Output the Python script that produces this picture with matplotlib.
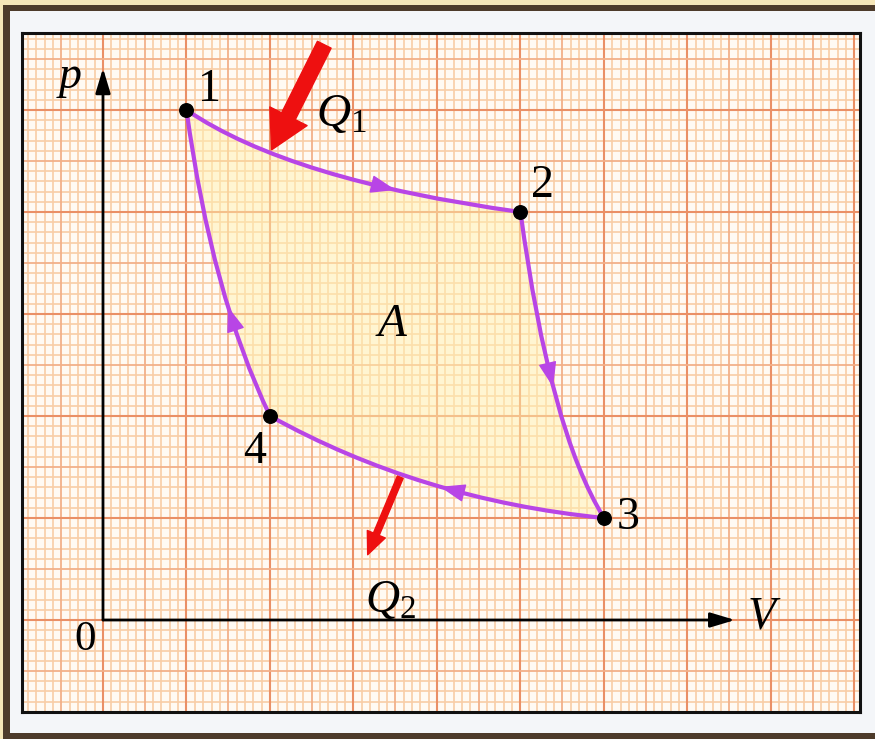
import matplotlib
matplotlib.use('Agg')
import numpy as np
import matplotlib.pyplot as plt
from matplotlib.path import Path
from matplotlib.patches import PathPatch, Rectangle
from matplotlib.bezier import BezierSegment

plt.rcParams['mathtext.fontset'] = 'custom'
plt.rcParams['mathtext.it'] = 'Liberation Serif:italic'
plt.rcParams['mathtext.rm'] = 'Liberation Serif'

# cycle vertices (V, p) and curve control points
state_v = [1.0, 5.0, 6.0, 2.0]
state_p = [5.0, 4.0, 1.0, 2.0]
state_lab = ['1', '2', '3', '4']
ctrl_v = [2.24, 5.35, 3.80, 1.30]
ctrl_p = [4.31, 1.86, 1.18, 3.19]
arrow_t = [0.66, 0.42, 0.42, 0.36]

# heat arrows: (start, tip)
q1_start, q1_tip = (2.65, 5.64), (2.02, 4.61)
q2_start, q2_tip = (3.56, 1.40), (3.17, 0.64)

W, H = 875, 739
fig = plt.figure(figsize=(W / 100, H / 100), dpi=100)
fig.patch.set_facecolor('#f5e6b8')


def prect(x0, y0, x1, y1, **kw):
    r = Rectangle((x0 / W, 1 - y1 / H), (x1 - x0) / W, (y1 - y0) / H,
                  transform=fig.transFigure, **kw)
    fig.patches.append(r)


prect(3, 5, 900, 760, facecolor='#4d3b2b', edgecolor='none', zorder=-10)
prect(10, 11, 900, 733, facecolor='#f4f6f9', edgecolor='none', zorder=-9)

ax = fig.add_axes([22 / W, 1 - 712 / H, 838 / W, 679 / H])
ax.set_zorder(1)
x0, x1, y0, y1 = -0.97, 9.066, -0.902, 5.755
ax.set_xlim(x0, x1)
ax.set_ylim(y0, y1)
ax.set_facecolor('#fffaf3')
ax.set_xticks([])
ax.set_yticks([])
for s in ax.spines.values():
    s.set_linewidth(2.2)
    s.set_color('#111111')
    s.set_zorder(10)

# graph paper
for k in range(-10, 92):
    v = k / 10
    if k % 10 == 0:
        c, lw = '#ea9066', 1.5
    elif k % 5 == 0:
        c, lw = '#f2b089', 1.3
    else:
        c, lw = '#f8cda6', 1.2
    ax.axvline(v, color=c, lw=lw, zorder=1 if k % 5 else 2)
for k in range(-10, 60):
    v = k / 10
    if k % 10 == 0:
        c, lw = '#ea9066', 1.5
    elif k % 5 == 0:
        c, lw = '#f2b089', 1.3
    else:
        c, lw = '#f8cda6', 1.2
    ax.axhline(v, color=c, lw=lw, zorder=1 if k % 5 else 2)

# cycle path
verts = [(state_v[0], state_p[0])]
codes = [Path.MOVETO]
for i in range(4):
    j = (i + 1) % 4
    verts += [(ctrl_v[i], ctrl_p[i]), (state_v[j], state_p[j])]
    codes += [Path.CURVE3, Path.CURVE3]
cycle = Path(verts, codes)
ax.add_patch(PathPatch(cycle, facecolor='#fff1b0', edgecolor='none', alpha=0.5, zorder=3))
ax.add_patch(PathPatch(cycle, facecolor='none', edgecolor='#b845e6', lw=3.0, zorder=5))

# direction arrows on the cycle
for i in range(4):
    j = (i + 1) % 4
    seg = BezierSegment(np.array([[state_v[i], state_p[i]], [ctrl_v[i], ctrl_p[i]],
                                  [state_v[j], state_p[j]]]))
    tip = seg.point_at_t(arrow_t[i] + 0.04)
    back = seg.point_at_t(arrow_t[i] - 0.08)
    ax.annotate('', xy=tip, xytext=back,
                arrowprops=dict(arrowstyle='simple,head_length=1.6,head_width=1.15,tail_width=0.05',
                                mutation_scale=10, color='#b845e6', shrinkA=0, shrinkB=0),
                zorder=6)

ax.scatter(state_v, state_p, s=95, color='black', zorder=7)

# axes
ax.annotate('', xy=(0, 5.41), xytext=(0, 0),
            arrowprops=dict(arrowstyle='-|>,head_length=1.0,head_width=0.3', mutation_scale=15,
                            color='black', lw=2, shrinkA=0, shrinkB=0), zorder=8)
ax.annotate('', xy=(7.57, 0), xytext=(0, 0),
            arrowprops=dict(arrowstyle='-|>,head_length=1.0,head_width=0.3', mutation_scale=15,
                            color='black', lw=2, shrinkA=0, shrinkB=0), zorder=8)

# heat arrows
ax.annotate('', xy=q1_tip, xytext=q1_start,
            arrowprops=dict(arrowstyle='simple,head_length=2.7,head_width=3.0,tail_width=1.1',
                            mutation_scale=10, color='#ee1010', shrinkA=0, shrinkB=0), zorder=9)
ax.annotate('', xy=q2_tip, xytext=q2_start,
            arrowprops=dict(arrowstyle='simple,head_length=1.6,head_width=1.4,tail_width=0.45',
                            mutation_scale=10, color='#ee1010', shrinkA=0, shrinkB=0), zorder=9)

serif = 'Liberation Serif'
lab_pos = [(1.28, 5.20), (5.26, 4.26), (6.29, 1.0), (1.82, 1.65)]
for (tx, ty), s in zip(lab_pos, state_lab):
    ax.text(tx, ty, s, fontsize=33, family=serif, ha='center', va='center', zorder=9)
ax.text(-0.395, 5.33, 'p', fontsize=33, family=serif, style='italic', ha='center', va='center')
ax.text(7.89, 0.03, 'V', fontsize=33, family=serif, style='italic', ha='center', va='center')
ax.text(-0.216, -0.196, '0', fontsize=31, family=serif, ha='center', va='center')
ax.text(3.46, 2.89, 'A', fontsize=34, family=serif, style='italic', ha='center', va='center')
ax.text(2.86, 4.97, '$Q_1$', fontsize=34, ha='center', va='center', zorder=9)
ax.text(3.44, 0.20, '$Q_2$', fontsize=34, ha='center', va='center', zorder=9)

fig.savefig('out.png', dpi=100, facecolor=fig.get_facecolor())
